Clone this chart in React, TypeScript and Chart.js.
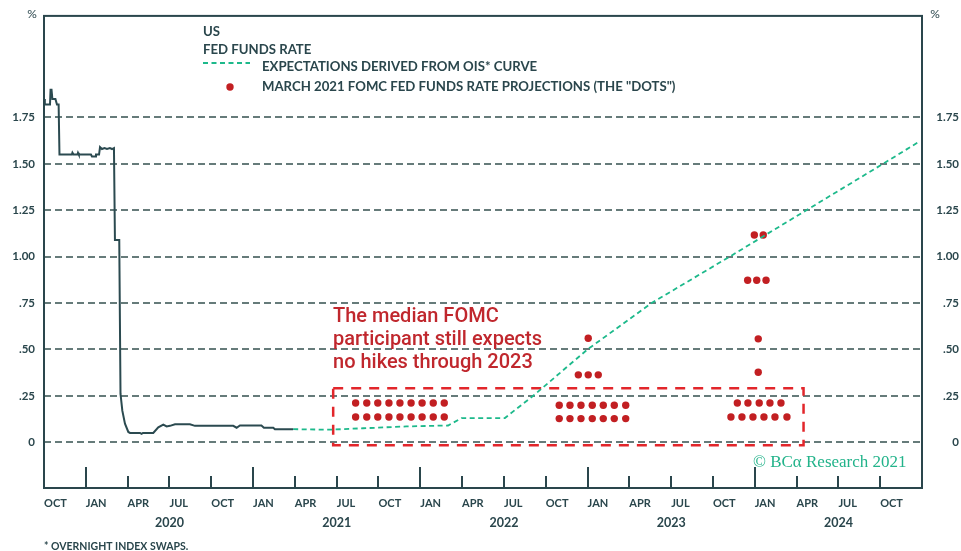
import { useEffect, useRef } from 'react';
import { Chart, registerables } from 'chart.js';

Chart.register(...registerables);

// x values are months counted from 1 Oct 2019 (63 = 1 Jan 2025)
const fedFundsMonths = [
  0.0, 0.06, 0.43, 0.47, 0.54, 0.6, 0.82, 0.93, 1.05, 1.11, 2.0, 2.04, 2.12, 2.4, 2.44, 2.5,
  3.37, 3.44, 3.66, 3.73, 3.95, 4.02, 4.16, 4.34, 4.52, 4.73, 4.88, 5.02, 5.09, 5.4, 5.49,
  5.62, 5.81, 6.05, 6.17, 6.89, 7.0, 7.1, 7.84, 8.2, 8.56, 8.8, 9.04, 9.4, 10.47, 10.83,
  13.58, 13.82, 14.06, 15.6, 15.78, 16.45, 16.57, 17.88,
];
const fedFundsRate = [
  1.85, 1.82, 1.82, 1.9, 1.9, 1.85, 1.85, 1.82, 1.82, 1.55, 1.55, 1.56, 1.55, 1.55, 1.56, 1.55,
  1.55, 1.54, 1.54, 1.55, 1.55, 1.59, 1.58, 1.585, 1.58, 1.585, 1.58, 1.585, 1.09, 1.09, 0.26,
  0.17, 0.1, 0.055, 0.05, 0.05, 0.045, 0.05, 0.05, 0.08, 0.095, 0.085, 0.088, 0.097, 0.097, 0.088,
  0.088, 0.078, 0.09, 0.09, 0.078, 0.078, 0.07, 0.07,
];

const oisMonths = [17.88, 19.8, 20.73, 22.9, 26.0, 29.0, 29.96, 33.07, 33.4, 35.1, 39.0, 43.6, 49.2, 54.7, 60.2, 62.8];
const oisRate = [0.07, 0.068, 0.068, 0.075, 0.085, 0.09, 0.13, 0.13, 0.15, 0.25, 0.5, 0.75, 1.0, 1.25, 1.5, 1.62];

// March 2021 FOMC projections, 18 participants per year-end, stacked as dots
const dotMonths = [
  22.36, 23.16, 23.95, 24.75, 25.54, 26.34, 27.13, 27.93, 28.72,
  22.36, 23.16, 23.95, 24.75, 25.54, 26.34, 27.13, 27.93, 28.72,
  36.97, 37.74, 38.53, 39.34, 40.13, 40.92, 41.74,
  36.97, 37.74, 38.53, 39.34, 40.13, 40.92, 41.74,
  38.34, 39.05, 39.77,
  39.05,
  49.29, 50.08, 50.87, 51.66, 52.45, 53.31,
  49.75, 50.51, 51.32, 52.09, 52.88,
  51.25, 51.25,
  50.49, 51.14, 51.81,
  50.97, 51.61,
];
const dotRates = [
  0.211, 0.211, 0.211, 0.211, 0.211, 0.211, 0.211, 0.211, 0.211,
  0.136, 0.136, 0.136, 0.136, 0.136, 0.136, 0.136, 0.136, 0.136,
  0.199, 0.199, 0.199, 0.199, 0.199, 0.199, 0.199,
  0.127, 0.127, 0.127, 0.127, 0.127, 0.127, 0.127,
  0.363, 0.363, 0.363,
  0.56,
  0.136, 0.136, 0.136, 0.136, 0.136, 0.136,
  0.211, 0.211, 0.211, 0.211, 0.211,
  0.377, 0.557,
  0.873, 0.873, 0.873,
  1.117, 1.117,
];

const quarterLabels = [
  'OCT', 'JAN', 'APR', 'JUL', 'OCT', 'JAN', 'APR', 'JUL', 'OCT', 'JAN', 'APR',
  'JUL', 'OCT', 'JAN', 'APR', 'JUL', 'OCT', 'JAN', 'APR', 'JUL', 'OCT',
];
const yearLabels = ['2020', '2021', '2022', '2023', '2024'];
const yearCenters = [9, 21, 33, 45, 57];
const rateTicks = [0, 0.25, 0.5, 0.75, 1, 1.25, 1.5, 1.75];
const rateTickLabels = ['0', '.25', '.50', '.75', '1.00', '1.25', '1.50', '1.75'];

// highlighted "no hikes" region
const focusBox = { from: 20.75, to: 54.5, low: -0.016, high: 0.291 };

const INK = '#2a464c';
const GRID = '#34504f';
const OIS = '#1db98b';
const DOT = '#c21f22';
const ALERT = '#e2262b';

const decorations = {
  id: 'decorations',
  beforeDatasetsDraw(chart: any) {
    const { ctx, chartArea: a, scales } = chart;
    ctx.save();
    ctx.strokeStyle = GRID;
    ctx.lineWidth = 1.7;
    ctx.setLineDash([7, 4]);
    rateTicks.forEach((v) => {
      const y = Math.round(scales.y.getPixelForValue(v));
      ctx.beginPath();
      ctx.moveTo(a.left, y);
      ctx.lineTo(a.right, y);
      ctx.stroke();
    });
    // dashed red highlight box
    const x1 = scales.x.getPixelForValue(focusBox.from);
    const x2 = scales.x.getPixelForValue(focusBox.to);
    const y1 = scales.y.getPixelForValue(focusBox.high);
    const y2 = scales.y.getPixelForValue(focusBox.low);
    ctx.strokeStyle = ALERT;
    ctx.lineWidth = 2.5;
    ctx.setLineDash([10, 8]);
    ctx.strokeRect(x1, y1, x2 - x1, y2 - y1);
    ctx.restore();
  },
  afterDatasetsDraw(chart: any) {
    const { ctx, chartArea: a, scales } = chart;
    ctx.save();
    // frame
    ctx.setLineDash([]);
    ctx.strokeStyle = INK;
    ctx.lineWidth = 2;
    ctx.strokeRect(a.left, a.top, a.right - a.left, a.bottom - a.top);
    // quarter tick marks, longer at year starts
    for (let m = 3; m < 63; m += 3) {
      const x = Math.round(scales.x.getPixelForValue(m));
      const len = m % 12 === 3 ? 21 : 12;
      ctx.beginPath();
      ctx.moveTo(x, a.bottom);
      ctx.lineTo(x, a.bottom - len);
      ctx.stroke();
    }
    ctx.fillStyle = INK;
    ctx.textBaseline = 'middle';
    // year labels
    ctx.font = 'bold 12.5px Lato';
    ctx.textAlign = 'center';
    yearLabels.forEach((t, i) => ctx.fillText(t, scales.x.getPixelForValue(yearCenters[i]), 523));
    // unit markers
    ctx.font = '12px Lato';
    ctx.fillText('%', 32, 14);
    ctx.fillText('%', 935, 14);
    // legend
    ctx.textAlign = 'left';
    ctx.font = 'bold 13.2px Lato';
    ctx.fillText('US', 203, 32);
    ctx.fillText('FED FUNDS RATE', 203, 50);
    ctx.fillText('EXPECTATIONS DERIVED FROM OIS* CURVE', 262, 67);
    ctx.fillText('MARCH 2021 FOMC FED FUNDS RATE PROJECTIONS (THE "DOTS")', 262, 87);
    ctx.strokeStyle = OIS;
    ctx.lineWidth = 1.8;
    ctx.setLineDash([5, 3.5]);
    ctx.beginPath();
    ctx.moveTo(203, 63);
    ctx.lineTo(250, 63);
    ctx.stroke();
    ctx.setLineDash([]);
    ctx.fillStyle = DOT;
    ctx.beginPath();
    ctx.arc(230, 87, 3.7, 0, Math.PI * 2);
    ctx.fill();
    // footnote
    ctx.fillStyle = INK;
    ctx.font = 'bold 10.5px Lato';
    ctx.fillText('* OVERNIGHT INDEX SWAPS.', 44, 547);
    // annotation
    ctx.fillStyle = '#c0272d';
    ctx.font = '500 20px Roboto';
    ctx.textBaseline = 'alphabetic';
    ctx.fillText('The median FOMC', 333, 321.7);
    ctx.fillText('participant still expects', 333, 345);
    ctx.fillText('no hikes through 2023', 333, 368.3);
    // credit
    ctx.fillStyle = '#22b38a';
    ctx.font = '17px "Liberation Serif"';
    ctx.textBaseline = 'middle';
    ctx.fillText('© BCα Research 2021', 753, 463);
    ctx.restore();
  },
};

const tickFont = { family: 'Lato', weight: 'bold' as const, size: 11.5 };

export default function App() {
  const ref = useRef<HTMLCanvasElement>(null);

  useEffect(() => {
    if (!ref.current) return;
    const yAxis = (position: 'left' | 'right', width: number) => ({
      type: 'linear' as const,
      position,
      min: -0.2469,
      max: 2.2975,
      bounds: 'data' as const,
      grid: { display: false, drawTicks: false },
      border: { display: false },
      afterBuildTicks: (s: any) => {
        s.ticks = rateTicks.map((v) => ({ value: v }));
      },
      afterFit: (s: any) => {
        s.width = width;
      },
      ticks: {
        padding: 9,
        color: INK,
        font: { ...tickFont, size: 11.5 },
        crossAlign: position === 'left' ? ('near' as const) : ('far' as const),
        callback: (_v: any, i: number) => rateTickLabels[i],
      },
    });

    const chart = new Chart(ref.current, {
      type: 'line',
      data: {
        datasets: [
          {
            label: 'FED FUNDS RATE',
            data: fedFundsMonths.map((m, i) => ({ x: m, y: fedFundsRate[i] })),
            borderColor: '#2b4a50',
            borderWidth: 2,
            pointRadius: 0,
            tension: 0,
          },
          {
            label: 'EXPECTATIONS DERIVED FROM OIS* CURVE',
            data: oisMonths.map((m, i) => ({ x: m, y: oisRate[i] })),
            borderColor: OIS,
            borderWidth: 1.8,
            borderDash: [5, 3.5],
            pointRadius: 0,
            tension: 0,
          },
          {
            type: 'scatter',
            label: 'MARCH 2021 FOMC FED FUNDS RATE PROJECTIONS',
            data: dotMonths.map((m, i) => ({ x: m, y: dotRates[i] })),
            backgroundColor: DOT,
            borderWidth: 0,
            pointRadius: 3.7,
          } as any,
        ],
      },
      options: {
        animation: false,
        responsive: false,
        maintainAspectRatio: false,
        layout: { padding: { top: 14, right: 2, left: 0, bottom: 0 } },
        plugins: { legend: { display: false }, tooltip: { enabled: false } },
        scales: {
          x: {
            type: 'linear',
            position: 'bottom',
            min: 0,
            max: 63,
            bounds: 'data',
            grid: { display: false, drawTicks: false },
            border: { display: false },
            afterBuildTicks: (s: any) => {
              s.ticks = quarterLabels.map((_, i) => ({ value: i * 3 }));
            },
            afterFit: (s: any) => {
              s.height = 63;
            },
            ticks: {
              autoSkip: false,
              maxRotation: 0,
              minRotation: 0,
              align: 'start',
              padding: 9,
              color: INK,
              font: { ...tickFont, size: 11 },
              callback: (_v: any, i: number) => quarterLabels[i],
            },
          },
          y: yAxis('left', 44),
          y2: yAxis('right', 37),
        },
      },
      plugins: [decorations],
    });
    return () => chart.destroy();
  }, []);

  return (
    <div style={{ position: 'fixed', left: 0, top: 0, width: 961, height: 551, background: '#fff' }}>
      <canvas ref={ref} width={961} height={551} style={{ display: 'block' }} />
    </div>
  );
}
